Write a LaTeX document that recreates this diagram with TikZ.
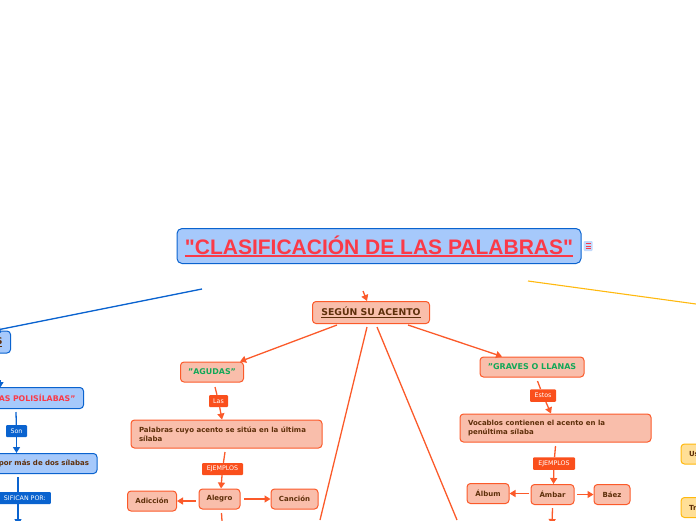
\documentclass[tikz,border=0pt]{standalone}
\usepackage{fontspec}
\setmainfont{DejaVu Sans}
\newfontfamily\titlefont{Liberation Sans}
\usetikzlibrary{arrows.meta}
\definecolor{blueFill}{HTML}{A6C9FB}
\definecolor{blueLine}{HTML}{0A63CF}
\definecolor{orFill}{HTML}{F9BEAB}
\definecolor{orLine}{HTML}{FB5A2A}
\definecolor{orTag}{HTML}{FA4F1C}
\definecolor{yelFill}{HTML}{FFDF97}
\definecolor{yelLine}{HTML}{FFB90F}
\definecolor{txtBrown}{HTML}{5E2F0A}
\definecolor{redTxt}{HTML}{FA3A48}
\definecolor{greenTxt}{HTML}{12A858}
\newcommand{\ulx}[3]{\setbox0\hbox{#3}\rlap{\raisebox{-#1}{\rule{\wd0}{#2}}}\box0}
\tikzset{
  x=1pt,y=-1pt,
  box/.style={draw,line width=1pt,rounded corners=3.5pt,inner sep=0pt,text=txtBrown,font=\bfseries\fontsize{7}{9}\selectfont,align=center},
  obox/.style={box,draw=orLine,fill=orFill},
  bbox/.style={box,draw=blueLine,fill=blueFill},
  ybox/.style={box,draw=yelLine,fill=yelFill},
  tagbase/.style={text=white,rounded corners=1pt,inner sep=0pt,font=\fontsize{6.3}{7}\selectfont},
  tagO/.style={tagbase,fill=orTag},
  tagB/.style={tagbase,fill=blueLine},
  orc/.style={draw=orLine,line width=1.3pt,-{Triangle[length=6pt,width=7pt]}},
  orp/.style={draw=orLine,line width=1.3pt},
  blc/.style={draw=blueLine,line width=1.3pt,-{Triangle[length=6pt,width=7pt]}},
  blp/.style={draw=blueLine,line width=1.3pt},
}
\begin{document}
\begin{tikzpicture}
\useasboundingbox (0,0) rectangle (696,520);
\clip (0,0) rectangle (696,520);
% title
\node[bbox,minimum width=404,minimum height=35,text=redTxt,font=\titlefont\bfseries\fontsize{21}{24}\selectfont,rounded corners=5pt] (title) at (379,246) {\raisebox{1pt}{\ulx{2.4pt}{1.3pt}{"CLASIFICACIÓN DE LAS PALABRAS"}}};
\node[fill=blueFill!70,minimum width=9,minimum height=10,inner sep=0pt,rounded corners=1pt] (note) at (588,246) {};
\draw[redTxt,line width=.7pt] (585.5,243.5) -- (590.5,243.5) (585.5,246) -- (590.5,246) (585.5,248.5) -- (590.5,248.5);
% centre
\node[obox,minimum width=117,minimum height=22,font=\bfseries\fontsize{9.3}{11}\selectfont] (acento) at (371,312.5) {\ulx{2pt}{.8pt}{SEGÚN SU ACENTO}};
\coordinate (acentoIn) at (363,291);
\draw[orc] (acentoIn) -- ([xshift=-4pt]acento.north);
% agudas
\node[obox,minimum width=63,minimum height=20,text=greenTxt,font=\bfseries\fontsize{7.9}{9}\selectfont] (agudas) at (212,372) {"AGUDAS"};
\node[obox,minimum width=191,minimum height=28] (ag1) at (226.5,434) {\parbox{175pt}{\raggedright Palabras cuyo acento se sitúa en la última\\sílaba}};
\node[tagO,minimum width=19,minimum height=12] (las) at (218.5,401) {Las};
\node[tagO,minimum width=41,minimum height=12] (ej1) at (222.5,469) {EJEMPLOS};
\node[obox,minimum width=41,minimum height=20] (alegro) at (219.5,499) {Alegro};
\node[obox,minimum width=49,minimum height=20] (adic) at (152,501) {Adicción};
\node[obox,minimum width=47,minimum height=20] (cancion) at (294.5,499) {Canción};
% graves
\node[obox,minimum width=104,minimum height=20,text=greenTxt,font=\bfseries\fontsize{8}{9}\selectfont] (graves) at (532,367) {"GRAVES O LLANAS};
\node[obox,minimum width=191,minimum height=28] (gr1) at (555.5,428) {\parbox{175pt}{\raggedright Vocablos contienen el acento en la\\penúltima sílaba}};
\node[tagO,minimum width=26,minimum height=12.5] (estos) at (543,395.5) {Estos};
\node[tagO,minimum width=42,minimum height=12.5] (ej2) at (554,463.5) {EJEMPLOS};
\node[obox,minimum width=43,minimum height=20] (ambar) at (552.5,494.5) {Ámbar};
\node[obox,minimum width=42,minimum height=20] (album) at (488,493.5) {Álbum};
\node[obox,minimum width=36,minimum height=20] (baez) at (612,494.5) {Báez};
% free ends
\coordinate (s1) at (337,325);
\coordinate (s2) at (408,325);
\coordinate (s3) at (367,327);
\coordinate (e3) at (320,520);
\coordinate (s4) at (377,327);
\coordinate (e4) at (457,520);
\coordinate (s5) at (215,387);
\coordinate (s6) at (225,452);
\coordinate (s7) at (196,501);
\coordinate (s8) at (244,499);
\coordinate (s9) at (221.5,513);
\coordinate (e9) at (222,521);
\coordinate (s10) at (537.5,381);
\coordinate (s11) at (555.5,446);
\coordinate (s12) at (529,493.5);
\coordinate (s13) at (577,494.5);
\coordinate (s14) at (552.5,508);
\coordinate (e14) at (552,525);
% connectors orange
\draw[orc] (s1) -- ([xshift=-4pt]agudas.north east);
\draw[orc] (s2) -- ([xshift=-30pt]graves.north);
\draw[orp] (s3) -- (e3);
\draw[orp] (s4) -- (e4);
\draw[orp] (s5) -- (las);
\draw[orc] (las) -- ([xshift=-4.5pt]ag1.north);
\draw[orp] (s6) -- (ej1);
\draw[orc] (ej1) -- ([xshift=1.5pt]alegro.north);
\draw[orc] (s7) -- (adic.east);
\draw[orc] (s8) -- (cancion.west);
\draw[orp] (s9) -- (e9);
\draw[orp] (s10) -- (estos);
\draw[orc] (estos) -- ([xshift=-4.5pt]gr1.north);
\draw[orp] (s11) -- (ej2);
\draw[orc] (ej2) -- ([xshift=1pt]ambar.north);
\draw[orc] (s12) -- (album.east);
\draw[orc] (s13) -- (baez.west);
\draw[orc] (s14) -- (e14);
% blue & left
\coordinate (blueStart) at (202,289);
\node[bbox,minimum height=22,anchor=east,inner xsep=8pt,text width=16pt,align=right,font=\bfseries\fontsize{9.3}{11}\selectfont] (sLeft) at (11,342) {\ulx{2pt}{.8pt}{S}};
\draw[blc] (blueStart) -- (sLeft.north);
\node[bbox,minimum height=21,anchor=east,inner xsep=8pt,text width=90pt,align=right,text=redTxt,font=\bfseries\fontsize{7.8}{9}\selectfont] (poli) at (84,398) {AS POLISÍLABAS"};
\coordinate (polIn) at (0,380);
\draw[blc] (polIn) -- (0,388);
\node[bbox,minimum height=20,anchor=east,inner xsep=8pt,text width=100pt,align=right] (por) at (97.5,463.5) {por más de dos sílabas};
\node[tagB,minimum width=21,minimum height=12] (son) at (16.5,431) {Son};
\node[tagB,minimum height=12,minimum width=62,anchor=east] (clasbox) at (51,498) {};
\node[anchor=east,inner sep=0pt,text=white,font=\fontsize{6.3}{7}\selectfont] (clas) at (46,498) {SIFICAN POR:};
\coordinate (son0) at (16,412);
\coordinate (clas0) at (18,477);
\coordinate (clasEnd) at (18,525);
\draw[blp] (son0) -- (son);
\draw[blc] (son) -- (por.north -| son);
\draw[blp] (clas0) -- (clasbox.north -| clas0);
\draw[blc] (clasbox.south -| clas0) -- (clasEnd);
% yellow
\coordinate (yelStart) at (528,281);
\coordinate (yelEnd) at (696,304);
\draw[draw=yelLine,line width=1.1pt] (yelStart) -- (yelEnd);
\node[ybox,minimum height=20,anchor=west,inner xsep=8pt,text width=20pt,align=left] (us) at (680.5,454) {Us};
\node[ybox,minimum height=20,anchor=west,inner xsep=8pt,text width=20pt,align=left] (tr) at (680.5,507.5) {Tr};
\end{tikzpicture}
\end{document}
